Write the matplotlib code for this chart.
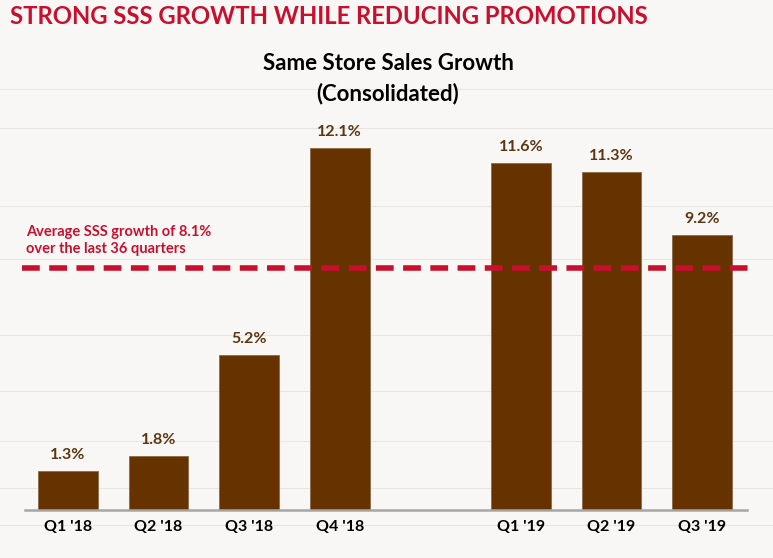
import matplotlib.pyplot as plt
from matplotlib.lines import Line2D

# data
quarters = ["Q1 '18", "Q2 '18", "Q3 '18", "Q4 '18", "Q1 '19", "Q2 '19", "Q3 '19"]
slots = [0, 1, 2, 3, 5, 6, 7]
sss_growth = [1.3, 1.8, 5.2, 12.1, 11.6, 11.3, 9.2]
avg_growth = 8.1

brown = "#663300"
red = "#C8102E"

plt.rcParams["font.family"] = ["Lato", "DejaVu Sans"]

fig = plt.figure(figsize=(7.73, 5.58), dpi=100)
fig.patch.set_facecolor("#F8F7F5")

# faint plank lines for the wood background
for yy in [0.84, 0.77, 0.63, 0.535, 0.40, 0.30, 0.21, 0.125, 0.06]:
    fig.add_artist(Line2D([0, 1], [yy, yy], color="#DEDBD6", lw=0.8, alpha=0.6, zorder=-5))

ax = fig.add_axes([25 / 773, 48 / 558, 722 / 773, 410 / 558])
ax.set_facecolor("none")

ax.bar(slots, sss_growth, width=0.66, color=brown, edgecolor="#8A6A4A", linewidth=0.6, zorder=2)
for x, v in zip(slots, sss_growth):
    ax.text(x, v + 0.3, f"{v}%", ha="center", va="bottom", fontsize=11.5,
            fontweight="bold", color="#5A3712")

ax.axhline(avg_growth, xmin=-0.004, xmax=1.005, color=red, lw=4, ls=(0, (3.2, 1.7)), zorder=3, clip_on=False)
ax.text(-0.46, avg_growth + 0.4, "Average SSS growth of 8.1%\nover the last 36 quarters",
        ha="left", va="bottom", fontsize=10.5, fontweight="bold", color=red, linespacing=1.25)

ax.set_xlim(-0.475, 7.497)
ax.set_ylim(0, 410 / 29.9)
ax.set_xticks(slots)
ax.set_xticklabels(quarters, fontsize=11.5, fontweight="bold")
ax.tick_params(axis="x", length=0, pad=7)
ax.set_yticks([])
for s in ["top", "right", "left"]:
    ax.spines[s].set_visible(False)
ax.spines["bottom"].set_color("#A6A6A6")
ax.spines["bottom"].set_linewidth(1.8)

fig.text(10 / 773, 1 - 16 / 558, "STRONG SSS GROWTH WHILE REDUCING PROMOTIONS",
         ha="left", va="center", fontsize=17.2, fontweight="bold", color=red)
fig.text(388 / 773, 1 - 63 / 558, "Same Store Sales Growth", ha="center", va="center",
         fontsize=16, fontweight="bold", color="black")
fig.text(388 / 773, 1 - 94 / 558, "(Consolidated)", ha="center", va="center",
         fontsize=16, fontweight="bold", color="black")

fig.savefig("out.png", dpi=100, facecolor=fig.get_facecolor())
